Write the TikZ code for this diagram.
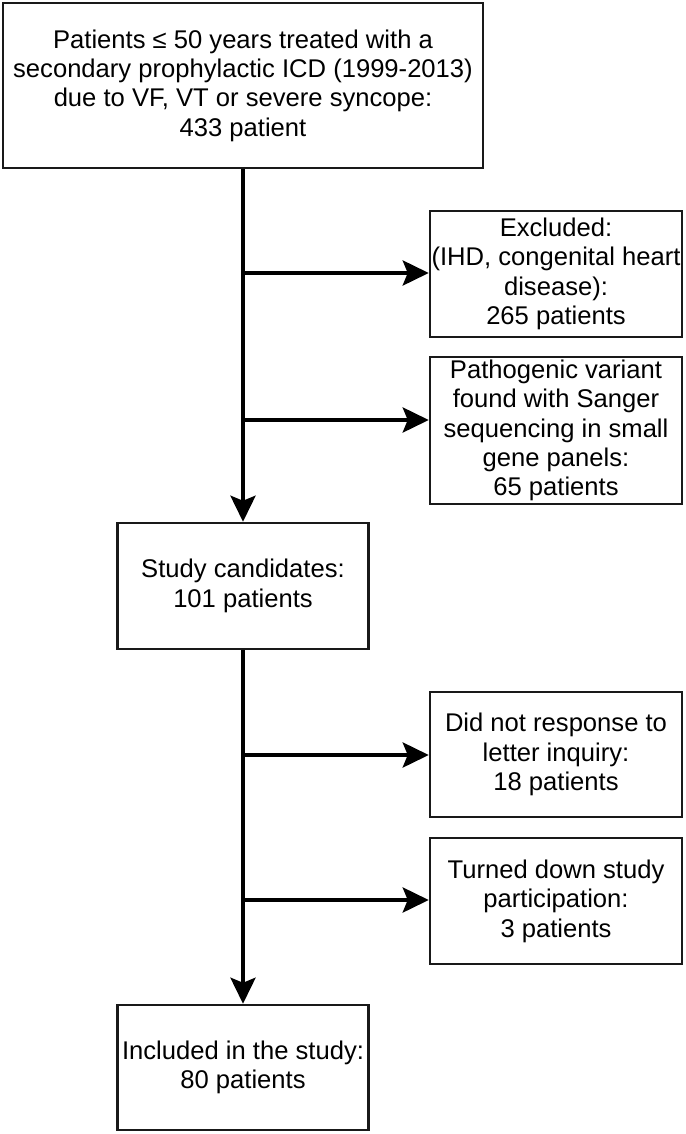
\documentclass[tikz,border=0pt]{standalone}
\usepackage{fontspec}
\setmainfont{Liberation Sans}
\usetikzlibrary{arrows.meta}
\begin{document}
\begin{tikzpicture}[x=1pt,y=-1pt,
  box/.style={draw=black!90, line width=2.5pt, align=center, inner sep=0pt,
    font=\fontsize{25.6}{29.4}\selectfont},
  conn/.style={line width=4pt, -{Stealth[length=26pt,width=25pt,inset=5pt]}}]
\useasboundingbox (0,0) rectangle (685,1134);
\node[box, minimum width=480pt, minimum height=165pt] (top) at (243,85.5)
  {Patients ≤ 50 years treated with a\\secondary prophylactic ICD (1999-2013)\\due to VF, VT or severe syncope:\\433 patient};
\node[box, minimum width=252pt, minimum height=126pt] (ex1) at (556,274)
  {Excluded:\\(IHD, congenital heart\\disease):\\265 patients};
\node[box, minimum width=252pt, minimum height=147pt] (ex2) at (556,430.5)
  {Pathogenic variant\\found with Sanger\\sequencing in small\\gene panels:\\65 patients};
\node[box, minimum width=251pt, minimum height=126pt] (cand) at (243,586)
  {Study candidates:\\101 patients};
\node[box, minimum width=252pt, minimum height=125pt] (ex3) at (556,754.5)
  {Did not response to\\letter inquiry:\\18 patients};
\node[box, minimum width=252pt, minimum height=126pt] (ex4) at (556,901)
  {Turned down study\\participation:\\3 patients};
\node[box, minimum width=251pt, minimum height=125pt] (incl) at (243,1067.5)
  {Included in the study:\\80 patients};
\coordinate (j1) at (243,273);
\coordinate (j2) at (243,420);
\coordinate (j3) at (243,755);
\coordinate (j4) at (243,900);
\draw[conn] (top.south) -- (cand.north);
\draw[conn] (cand.south) -- (incl.north);
\draw[conn] (j1) -- (j1 -| ex1.west);
\draw[conn] (j2) -- (j2 -| ex2.west);
\draw[conn] (j3) -- (j3 -| ex3.west);
\draw[conn] (j4) -- (j4 -| ex4.west);
\end{tikzpicture}
\end{document}
